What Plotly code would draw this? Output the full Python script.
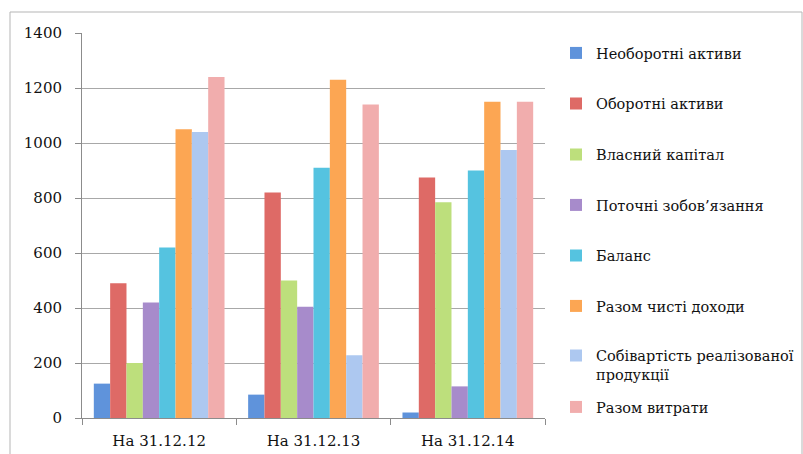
import plotly.graph_objects as go

# Categories (reporting dates) and indicator series
categories = ["На 31.12.12", "На 31.12.13", "На 31.12.14"]

series_names = [
    "Необоротні активи",
    "Оборотні активи",
    "Власний капітал",
    "Поточні зобов’язання",
    "Баланс",
    "Разом чисті доходи",
    "Собівартість реалізованої<br>продукції",
    "Разом витрати",
]

non_current_assets = [125, 85, 20]
current_assets = [490, 820, 875]
equity = [200, 500, 785]
current_liabilities = [420, 405, 115]
balance = [620, 910, 900]
net_revenue = [1050, 1230, 1150]
cost_of_sales = [1040, 228, 975]
total_expenses = [1240, 1140, 1150]

series_values = [
    non_current_assets,
    current_assets,
    equity,
    current_liabilities,
    balance,
    net_revenue,
    cost_of_sales,
    total_expenses,
]

colors = [
    "#5f93db",
    "#de6a66",
    "#bddf7c",
    "#a78bcb",
    "#55c3e0",
    "#fca653",
    "#adc8f0",
    "#f1adad",
]

y_ticks = [0, 200, 400, 600, 800, 1000, 1200, 1400]

# figure geometry (px)
W, H = 803, 454
ML, MR, MT, MB = 82, 258, 33, 36
PW, PH = W - ML - MR, H - MT - MB

# vertical centres of legend entries (px from top)
legend_centres = [53, 103.5, 154.5, 205, 255.5, 306, 365, 407]

fig = go.Figure()
layout_legends = {}
for i, (name, vals, col) in enumerate(zip(series_names, series_values, colors)):
    key = "legend" if i == 0 else f"legend{i + 1}"
    fig.add_trace(
        go.Bar(
            x=categories,
            y=vals,
            name=name,
            marker=dict(color=col, line=dict(width=0)),
            legend=key,
        )
    )
    layout_legends[key] = dict(
        xref="container",
        yref="container",
        x=556 / W,
        y=1 - legend_centres[i] / H,
        xanchor="left",
        yanchor="middle",
        valign="top",
        bgcolor="rgba(0,0,0,0)",
        borderwidth=0,
        font=dict(family="DejaVu Serif", size=14.5, color="#111111"),
        itemwidth=30,
    )

# outer chart frame
frame_left = (10 - ML) / PW
frame_right = (802 - ML) / PW
frame_top = (H - MB - 12) / PH
frame_bottom = (H - MB - 470) / PH

fig.update_layout(
    width=W,
    height=H,
    margin=dict(l=ML, r=MR, t=MT, b=MB, pad=0, autoexpand=False),
    paper_bgcolor="white",
    plot_bgcolor="white",
    barmode="group",
    bargap=0.153,
    bargroupgap=0,
    showlegend=True,
    shapes=[
        dict(
            type="rect",
            xref="paper",
            yref="paper",
            x0=frame_left,
            x1=frame_right,
            y0=frame_bottom,
            y1=frame_top,
            line=dict(color="#b5b5b5", width=1),
            fillcolor="rgba(0,0,0,0)",
            layer="below",
        )
    ],
    xaxis=dict(
        type="category",
        automargin=False,
        showline=True,
        linecolor="#8c8c8c",
        linewidth=1,
        ticks="outside",
        tickson="boundaries",
        ticklen=6,
        tickcolor="#8c8c8c",
        showgrid=False,
        tickfont=dict(family="DejaVu Serif", size=15, color="#111111"),
        ticklabelstandoff=9,
    ),
    yaxis=dict(
        range=[0, 1400],
        tickvals=y_ticks,
        automargin=False,
        showline=True,
        linecolor="#8c8c8c",
        linewidth=1,
        ticks="outside",
        ticklen=6,
        tickcolor="#8c8c8c",
        showgrid=True,
        gridcolor="#a8a8a8",
        gridwidth=1,
        zeroline=False,
        tickfont=dict(family="DejaVu Serif", size=15, color="#111111"),
        ticklabelstandoff=10,
    ),
    **layout_legends,
)

fig.write_html("out.html")
